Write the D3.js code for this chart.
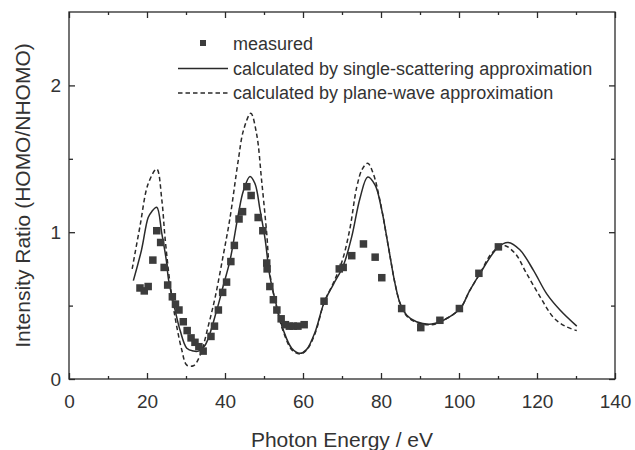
<!DOCTYPE html>
<html>
<head>
<meta charset="utf-8">
<script src="https://cdn.jsdelivr.net/npm/d3@7"></script>
<style>
    body { margin: 0; background: #fff; }
    svg text { font-family: "Liberation Sans", Arial, sans-serif; fill: #333; }
    .axis path, .axis line { stroke: #2a2a2a; stroke-width: 1.3; }
</style>
</head>
<body>
<svg id="graph"></svg>
<script>
// measured points (photon energy, ratio)
const measuredE = [ 18.2, 19.3, 20.3, 21.5, 22.5, 23.5, 24.4, 25.3, 26.5, 27.3, 28.2, 29.3, 30.3, 31.3, 32.3, 33.3, 34.4,
    36.4, 37.3, 38.3, 39.4, 40.4, 41.5, 42.4, 43.6, 44.5, 45.6, 46.7, 48.5, 49.7, 50.7, 50.8, 51.5, 52.4, 53.3, 54.4,
    55.5, 56.5, 57.5, 58.7, 60.3, 65.4, 69.3, 70.3, 72.5, 75.5, 78.5, 80.2, 85.3, 90.2, 95.1, 100.1, 105.1, 110.1 ];
const measuredR = [ 0.62, 0.60, 0.63, 0.81, 1.01, 0.93, 0.76, 0.64, 0.56, 0.51, 0.47, 0.39, 0.33, 0.28, 0.25, 0.22, 0.19,
    0.29, 0.36, 0.47, 0.59, 0.66, 0.80, 0.91, 1.09, 1.14, 1.31, 1.25, 1.10, 1.01, 0.79, 0.75, 0.63, 0.54, 0.47, 0.41,
    0.37, 0.36, 0.36, 0.36, 0.37, 0.53, 0.75, 0.76, 0.84, 0.92, 0.83, 0.69, 0.48, 0.35, 0.40, 0.48, 0.72, 0.90 ];

// single-scattering approximation
const singleE = [ 16.5, 18.6, 20.3, 21.2, 22.5, 23.8, 25.0, 25.5, 27.2, 28.5, 30.2, 31.9, 33.2, 34.9, 37.9, 39.5, 41.3,
    43.4, 44.7, 46.4, 47.7, 49.0, 50.3, 51.5, 53.3, 55.0, 57.1, 59.2, 60.9, 63.1, 65.4, 67.8, 70.3, 72.5, 74.6, 76.6,
    78.5, 80.2, 81.9, 83.6, 84.9, 86.6, 89.1, 93.0, 96.0, 100.3, 102.7, 105.4, 110.1, 112.6, 115.6, 119.1, 122.5,
    125.9, 130.2 ];
const singleR = [ 0.67, 0.88, 1.10, 1.14, 1.17, 0.99, 0.80, 0.68, 0.47, 0.33, 0.21, 0.19, 0.19, 0.23, 0.47, 0.63, 0.81,
    1.12, 1.28, 1.38, 1.33, 1.15, 0.95, 0.70, 0.49, 0.33, 0.21, 0.175, 0.20, 0.32, 0.52, 0.645, 0.77, 0.97, 1.23, 1.376,
    1.32, 1.15, 0.90, 0.65, 0.515, 0.435, 0.39, 0.374, 0.40, 0.48, 0.60, 0.72, 0.90, 0.93, 0.88, 0.74, 0.58,
    0.47, 0.36 ];

// plane-wave approximation
const planeE = [ 16.2, 18.2, 20.3, 22.5, 23.8, 24.6, 25.9, 27.2, 28.9, 30.2, 31.9, 33.6, 35.7, 37.5, 39.6, 41.3, 43.4,
    44.7, 46.6, 48.1, 49.4, 50.7, 51.5, 53.3, 55.0, 57.1, 59.2, 61.0, 63.1, 65.4, 67.8, 70.0, 72.0, 73.8, 75.2, 76.6,
    78.0, 79.7, 81.9, 83.6, 84.9, 86.6, 89.1, 93.0, 96.0, 100.3, 102.7, 105.4, 108.5, 111.4, 114.4, 117.3, 120.8,
    124.2, 127.2, 130.2 ];
const planeR = [ 0.75, 1.04, 1.33, 1.43, 1.22, 0.97, 0.65, 0.42, 0.20, 0.095, 0.09, 0.16, 0.36, 0.56, 0.85, 1.10, 1.49,
    1.69, 1.81, 1.67, 1.35, 0.99, 0.72, 0.48, 0.32, 0.20, 0.17, 0.20, 0.31, 0.52, 0.655, 0.80, 1.02, 1.31, 1.43, 1.47,
    1.40, 1.22, 0.90, 0.65, 0.515, 0.43, 0.385, 0.37, 0.40, 0.48, 0.60, 0.72, 0.86, 0.91, 0.855, 0.72, 0.56,
    0.42, 0.36, 0.33 ];

const xTicks = [ 0, 20, 40, 60, 80, 100, 120, 140 ];
const xMinorTicks = [ 10, 30, 50, 70, 90, 110, 130 ];
const yTicks = [ 0, 1, 2 ];
const yMinorTicks = [ 0.5, 1.5 ];
const legendLabels = [ "measured", "calculated by single-scattering approximation", "calculated by plane-wave approximation" ];

var svgWidth = 635,
    svgHeight = 450,
    margin = { top: 12, right: 20, bottom: 71, left: 69 },
    width = svgWidth - margin.left - margin.right,
    height = svgHeight - margin.top - margin.bottom,
    ink = "#2a2a2a";

var svg = d3.select( "svg#graph" )
    .attr( "width", svgWidth )
    .attr( "height", svgHeight );

var g = svg.append( "g" )
    .attr( "transform", "translate(" + [ margin.left, margin.top ] + ")" );

var x = d3.scaleLinear().domain( [ 0, 140 ] ).range( [ 0, width ] );
var y = d3.scaleLinear().domain( [ 0, 2.5 ] ).range( [ height, 0 ] );

// axes, ticks pointing inwards on all four sides
function addAxis( axis, values, size, labels, translate ) {
    var a = g.append( "g" )
        .classed( "axis", true )
        .attr( "transform", "translate(" + translate + ")" )
        .call( axis.tickValues( values ).tickSize( -size ).tickPadding( labels ? labels : 0 )
            .tickFormat( labels ? d3.format( "d" ) : "" ) );
    return a;
}

addAxis( d3.axisBottom( x ), xTicks, 6, 16, [ 0, height ] ).style( "font-size", "19px" );
addAxis( d3.axisBottom( x ), xMinorTicks, 3, 0, [ 0, height ] );
addAxis( d3.axisTop( x ), xTicks, 6, 0, [ 0, 0 ] );
addAxis( d3.axisTop( x ), xMinorTicks, 3, 0, [ 0, 0 ] );
addAxis( d3.axisLeft( y ), yTicks, 6, 8, [ 0, 0 ] ).style( "font-size", "19px" );
addAxis( d3.axisLeft( y ), yMinorTicks, 4, 0, [ 0, 0 ] );
addAxis( d3.axisRight( y ), yTicks, 6, 0, [ width, 0 ] );
addAxis( d3.axisRight( y ), yMinorTicks, 4, 0, [ width, 0 ] );

g.selectAll( ".axis .domain" ).attr( "d", null );
g.append( "rect" )
    .attr( "width", width )
    .attr( "height", height )
    .style( "fill", "none" )
    .style( "stroke", ink )
    .style( "stroke-width", 1.3 );
g.selectAll( ".axis text" ).style( "fill", "#333" ).attr( "font-family", null );

// curves
var line = d3.line()
    .x( function ( d ) { return x( d[ 0 ] ); } )
    .y( function ( d ) { return y( d[ 1 ] ); } )
    .curve( d3.curveCatmullRom.alpha( 0.5 ) );

g.append( "path" )
    .datum( d3.zip( singleE, singleR ) )
    .attr( "d", line )
    .style( "fill", "none" )
    .style( "stroke", ink )
    .style( "stroke-width", 1.5 );

g.append( "path" )
    .datum( d3.zip( planeE, planeR ) )
    .attr( "d", line )
    .style( "fill", "none" )
    .style( "stroke", ink )
    .style( "stroke-width", 1.5 )
    .style( "stroke-dasharray", "4.5,3" );

var sq = 7.5;
g.append( "g" )
    .selectAll( "rect" )
    .data( d3.zip( measuredE, measuredR ) )
    .enter()
    .append( "rect" )
    .attr( "x", function ( d ) { return x( d[ 0 ] ) - sq / 2; } )
    .attr( "y", function ( d ) { return y( d[ 1 ] ) - sq / 2; } )
    .attr( "width", sq )
    .attr( "height", sq )
    .style( "fill", "#3c3c3c" );

// legend
var legend = svg.append( "g" )
    .attr( "transform", "translate(" + [ 233, 50 ] + ")" )
    .style( "font-size", "18px" );

legend.selectAll( "text" )
    .data( legendLabels )
    .enter()
    .append( "text" )
    .attr( "y", function ( d, i ) { return i * 24.5; } )
    .text( function ( d ) { return d; } );

legend.append( "rect" )
    .attr( "x", -33 )
    .attr( "y", -10 )
    .attr( "width", 6 )
    .attr( "height", 6 )
    .style( "fill", "#3c3c3c" );
legend.append( "line" )
    .attr( "x1", -55 ).attr( "x2", -5 )
    .attr( "y1", 18.5 ).attr( "y2", 18.5 )
    .style( "stroke", ink )
    .style( "stroke-width", 1.3 );
legend.append( "line" )
    .attr( "x1", -55 ).attr( "x2", -5 )
    .attr( "y1", 43 ).attr( "y2", 43 )
    .style( "stroke", ink )
    .style( "stroke-width", 1.3 )
    .style( "stroke-dasharray", "4.5,3" );

// axis titles
svg.append( "text" )
    .attr( "x", margin.left + width / 2 )
    .attr( "y", 447 )
    .attr( "text-anchor", "middle" )
    .style( "font-size", "21px" )
    .text( "Photon Energy / eV" );

svg.append( "text" )
    .attr( "transform", "translate(" + [ 30, margin.top + height / 2 ] + ") rotate(-90)" )
    .attr( "text-anchor", "middle" )
    .style( "font-size", "21px" )
    .text( "Intensity Ratio (HOMO/NHOMO)" );
</script>
</body>
</html>
